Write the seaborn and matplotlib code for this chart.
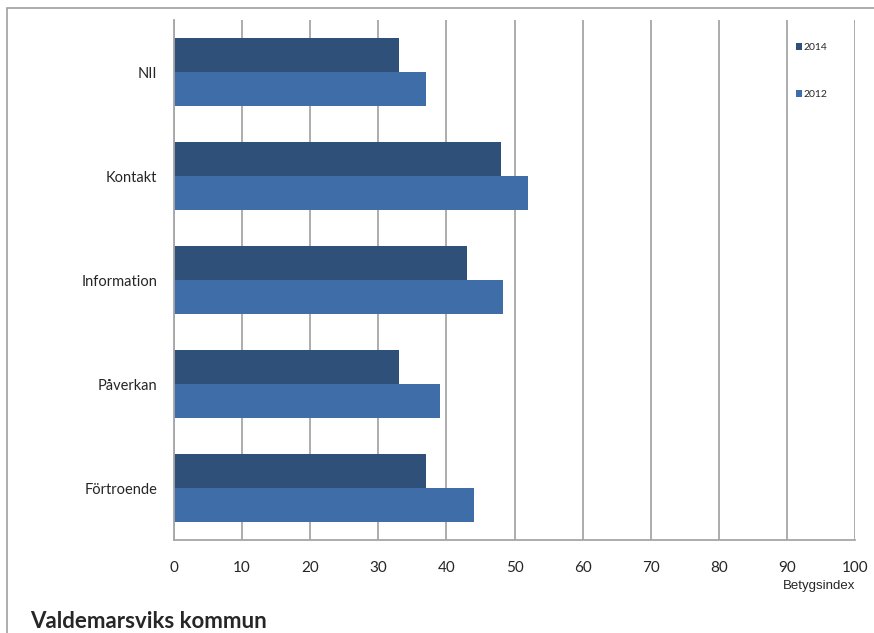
import pandas as pd
import matplotlib
matplotlib.use('Agg')
import matplotlib.pyplot as plt
import seaborn as sns
from matplotlib.patches import Rectangle

categories = ['NII', 'Kontakt', 'Information', 'Påverkan', 'Förtroende']
values_2014 = [33, 48, 43, 33, 37]
values_2012 = [37, 52, 48.3, 39, 44]
years = ['2014', '2012']
colors = ['#2F5078', '#3E6DA7']

data = pd.DataFrame({
    'kategori': categories * 2,
    'ar': ['2014'] * 5 + ['2012'] * 5,
    'index': values_2014 + values_2012,
})

sns.set_style('white')
plt.rcParams['font.family'] = ['Lato', 'DejaVu Sans']

fig = plt.figure(figsize=(8.74, 6.33), dpi=100)
ax = fig.add_axes([174/874, 1-540/633, (855-174)/874, (540-20)/633])

sns.barplot(data=data, y='kategori', x='index', hue='ar', hue_order=years,
            order=categories, palette=colors, orient='h', width=0.645,
            ax=ax, saturation=1, linewidth=0, errorbar=None)

ax.set_xlim(0, 100)
ax.set_ylim(4.5, -0.5)
ax.set_xticks(range(0, 101, 10))
ax.grid(axis='x', color='#A6A6A6', linewidth=1.3)
ax.set_axisbelow(True)
for s in ['top', 'right']:
    ax.spines[s].set_visible(False)
for s in ['left', 'bottom']:
    ax.spines[s].set_color('#A6A6A6')
    ax.spines[s].set_linewidth(1.3)
ax.tick_params(axis='x', length=5, color='#A6A6A6', width=1.3, labelsize=11, pad=10)
ax.tick_params(axis='y', length=0, labelsize=10.5, pad=12)
ax.set_xlabel('')
ax.set_ylabel('')

handles, labels = ax.get_legend_handles_labels()
ax.legend(handles, labels, loc='upper left', bbox_to_anchor=(0.905, 0.965),
          frameon=False, fontsize=7.5, handlelength=0.6, handleheight=0.6,
          handletextpad=0.2, labelspacing=3.6, borderpad=0)

fig.text(855/874, 1-586/633, 'Betygsindex', ha='right', va='center',
         fontsize=9.5, family=['Liberation Sans Narrow', 'Liberation Sans'])
fig.text(30/874, 1-621/633, 'Valdemarsviks kommun', ha='left', va='center',
         fontsize=16, fontweight='bold')

fig.patches.append(Rectangle((7/874, -0.1), 1.2, 1 - 8/633 + 0.1,
                             transform=fig.transFigure, fill=False,
                             edgecolor='#A0A0A0', linewidth=1.2))

fig.savefig('out.png', dpi=100)
